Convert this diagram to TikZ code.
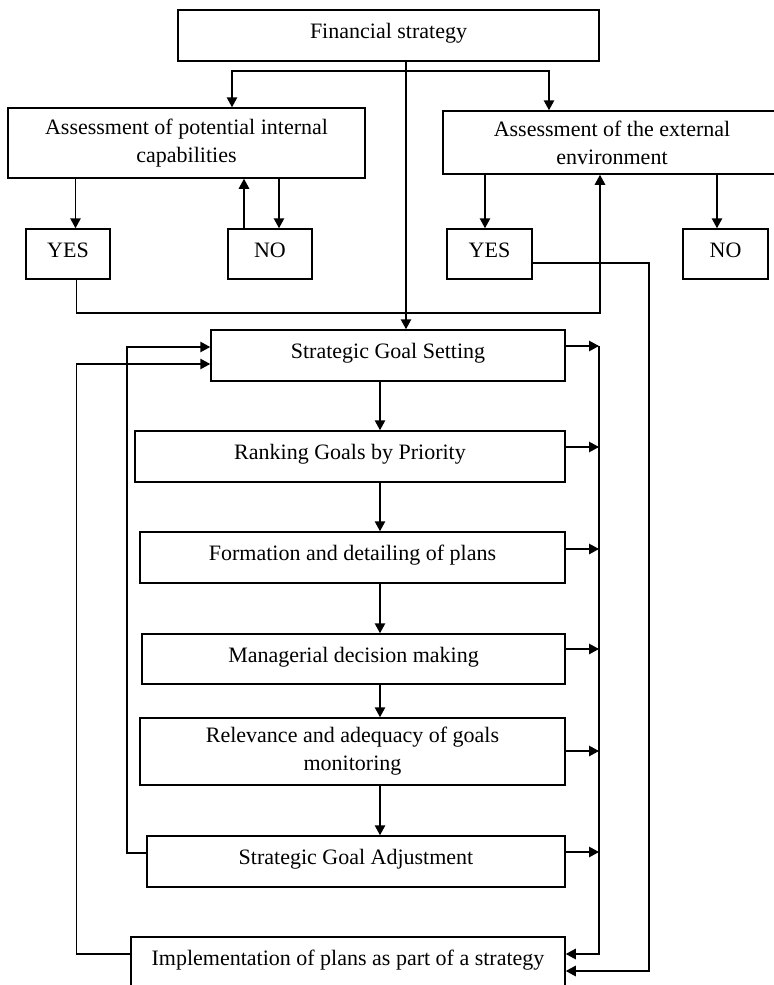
\documentclass[tikz,border=0pt]{standalone}
\usepackage{fontspec}
\setmainfont{Liberation Serif}
\usetikzlibrary{arrows.meta}

\tikzset{
	box/.style={draw, line width=0.75pt, inner sep=2pt, align=center, font=\fontsize{11}{14}\selectfont, text height=8.5pt, text depth=5.5pt},
	boxtwo/.style={draw, line width=0.75pt, inner sep=2pt, align=center, font=\fontsize{11}{14}\selectfont},
	arr/.style={line width=0.8pt, ->},
	ln/.style={line width=0.8pt}
}

\begin{document}
\begin{tikzpicture}[x=0.5pt, y=-0.5pt, >={Triangle[length=5pt,width=5.2pt]}]
		%%%%% START %%%%%
		
		\fill[white] (0,0) rectangle (774,985);
		\useasboundingbox (0,0) rectangle (774,985);
		
		\node[box, minimum width=210.5pt, minimum height=25.5pt] (fin) at (388.5, 35.5) {Financial strategy};
		
		\node[boxtwo, minimum width=178.5pt, minimum height=35pt] (intcap) at (186.5, 143) {Assessment of potential internal\\capabilities};
		\node[boxtwo, minimum width=169pt, minimum height=31.5pt] (extenv) at (612, 142.5) {Assessment of the external\\environment};
		
		\node[box, minimum width=42pt, minimum height=25pt] (yesL) at (68, 254) {YES};
		\node[box, minimum width=42pt, minimum height=25pt] (noL) at (270, 254) {NO};
		\node[box, minimum width=42.5pt, minimum height=25pt] (yesR) at (489.5, 254) {YES};
		\node[box, minimum width=42.5pt, minimum height=25pt] (noR) at (725.5, 254) {NO};
		
		\node[box, minimum width=177pt, minimum height=25.5pt] (sgs) at (388, 355.5) {Strategic Goal Setting};
		\node[box, minimum width=215pt, minimum height=25.5pt] (rank) at (350, 456.5) {Ranking Goals by Priority};
		\node[box, minimum width=212.5pt, minimum height=25.5pt] (form) at (352.5, 557.5) {Formation and detailing of plans};
		\node[box, minimum width=211.5pt, minimum height=25pt] (mgr) at (353.5, 659) {Managerial decision making};
		\node[boxtwo, minimum width=212.5pt, minimum height=33.5pt] (rel) at (352.5, 751.5) {Relevance and adequacy of goals\\monitoring};
		\node[box, minimum width=209pt, minimum height=25.5pt] (adj) at (356, 861.5) {Strategic Goal Adjustment};
		\node[box, minimum width=217pt, minimum height=25pt] (impl) at (348, 962) {Implementation of plans as part of a strategy};
		
		\coordinate (spine) at (406, 0);
		\coordinate (mid) at (380, 0);
		\coordinate (rail) at (599, 0);
		
		% top part
		\draw[arr] (fin.south -| spine) -- (sgs.north -| spine);
		\draw[ln, <->] (intcap.north -| 232,0) |- (549,71) -- (extenv.north -| 549,0);
		
		\draw[arr] (intcap.south -| 75.5,0) -- (yesL.north -| 75.5,0);
		\draw[arr] (noL.north -| 244,0) -- (intcap.south -| 244,0);
		\draw[arr] (intcap.south -| 279,0) -- (noL.north -| 279,0);
		\draw[arr] (extenv.south -| 485,0) -- (yesR.north -| 485,0);
		\draw[arr] (extenv.south -| 717,0) -- (noR.north -| 717,0);
		
		\draw[arr] (yesL.south -| 76.5,0) |- (600,313) -- (extenv.south -| 600,0);
		\draw[arr] (yesR.east |- 0,263) -| (649,971) -- (impl.east |- 0,971);
		
		% chain
		\foreach \a/\b in {sgs/rank, rank/form, form/mgr, mgr/rel, rel/adj}
			\draw[arr] (\a.south -| mid) -- (\b.north -| mid);
		
		\foreach \n/\y in {sgs/346, rank/447, form/549, mgr/649, rel/751, adj/852}
			\draw[arr] (\n.east |- 0,\y) -- (rail |- 0,\y);
		\draw[arr] (rail |- 0,346) |- (impl.east |- 0,954);
		
		% loops back
		\draw[arr] (adj.west |- 0,853) -| (127,347) -- (sgs.west |- 0,347);
		\draw[arr] (impl.west |- 0,954) -| (76.5,364) -- (sgs.west |- 0,364);
		
		%%%%% END %%%%%
\end{tikzpicture}
\end{document}
